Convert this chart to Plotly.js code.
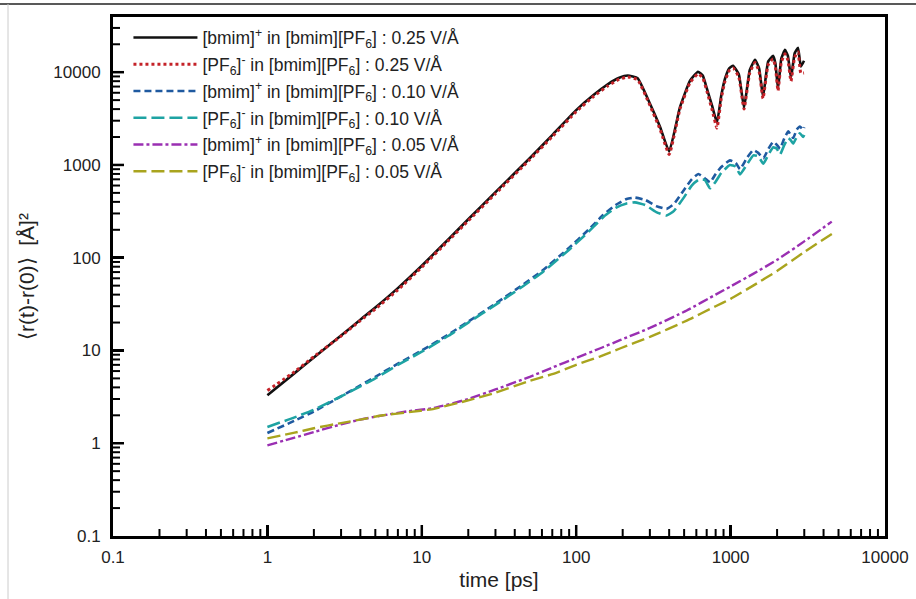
<!DOCTYPE html>
<html>
<head>
<meta charset="utf-8">
<script src="https://cdn.plot.ly/plotly-3.0.1.min.js"></script>
<style>html,body{margin:0;padding:0;background:#fff;}#chart{width:916px;height:599px;}</style>
</head>
<body>
<div id="chart"></div>
<script>
// ---- data ----
const t025 = [1, 1.5, 2, 3, 4, 5, 7, 10, 15, 20, 30, 50, 70, 100, 130, 160, 190, 216, 250, 300, 350, 400, 470, 546, 615, 660, 703, 760, 816, 870, 920, 980, 1037, 1130, 1222, 1330, 1439, 1530, 1622, 1750, 1883, 1950, 2028, 2130, 2250, 2350, 2461, 2600, 2733, 2850, 2990];
const bmim025 = [3.3, 5.7, 8.4, 14.5, 21.5, 29, 47, 82, 160, 260, 510, 1180, 2100, 3900, 5700, 7400, 8700, 9200, 8600, 4600, 2550, 1400, 4200, 8100, 10100, 9200, 6600, 4300, 2860, 5600, 8500, 11000, 11750, 9500, 4150, 10500, 13600, 11000, 5450, 13000, 15000, 12500, 6640, 14000, 17400, 15000, 8700, 16000, 18300, 11500, 13300];
const pf6025 = [3.7, 5.9, 8.6, 14.3, 21, 28, 45, 79, 155, 250, 490, 1140, 2020, 3750, 5500, 7100, 8400, 8900, 8300, 4400, 2400, 1300, 4000, 7700, 9600, 8700, 6200, 3900, 2500, 5200, 8000, 10400, 11100, 8900, 4000, 9800, 12700, 10200, 5200, 12000, 13900, 11500, 6300, 12800, 15800, 13500, 8000, 14500, 16500, 9800, 9800];

const t010 = [1, 1.5, 2, 3, 4, 5, 7, 10, 15, 20, 30, 45, 60, 90, 120, 150, 180, 212, 240, 280, 330, 385, 430, 500, 560, 618, 680, 736, 800, 870, 990, 1080, 1150, 1280, 1403, 1510, 1630, 1760, 1890, 1990, 2090, 2230, 2366, 2450, 2545, 2680, 2810, 2950, 3000];
const bmim010 = [1.29, 1.75, 2.2, 3.2, 4.2, 5.2, 7.2, 10, 15, 20.5, 32, 51, 72, 128, 200, 290, 370, 430, 445, 420, 360, 336, 380, 540, 700, 800, 720, 650, 800, 950, 1120, 1050, 900, 1200, 1450, 1350, 1180, 1500, 1780, 1650, 1500, 1950, 2300, 2100, 1950, 2400, 2600, 2400, 2550];
const pf6010 = [1.5, 1.9, 2.3, 3.2, 4.1, 5.0, 7.0, 9.7, 14.5, 20, 31, 49, 69, 122, 190, 275, 345, 385, 395, 370, 310, 285, 320, 450, 600, 690, 690, 560, 660, 820, 1000, 960, 790, 1020, 1270, 1240, 1030, 1300, 1550, 1500, 1300, 1650, 1950, 1850, 1700, 2000, 2200, 2000, 2100];

const t005b = [1, 1.5, 2, 3, 4, 5.6, 8, 12, 20, 30, 50, 71, 100, 142, 192, 300, 520, 800, 1000, 1400, 2000, 3000, 4520];
const bmim005 = [0.95, 1.15, 1.32, 1.6, 1.8, 2.0, 2.2, 2.4, 3.0, 3.8, 5.2, 6.6, 8.3, 10.5, 12.9, 17.5, 27, 40, 49, 67, 95, 150, 245];
const t005p = [1, 1.5, 2, 3, 4, 5.6, 8, 12, 20, 30, 50, 71, 100, 142, 192, 300, 520, 800, 1000, 1400, 2000, 3000, 4740];
const pf6005 = [1.13, 1.3, 1.45, 1.65, 1.8, 2.0, 2.15, 2.35, 2.9, 3.5, 4.7, 5.6, 7.0, 8.6, 10.5, 14, 21, 30, 36, 50, 72, 115, 190];

const seriesNames = [
  "[bmim]<sup>+</sup> in [bmim][PF<sub>6</sub>] : 0.25 V/Å",
  "[PF<sub>6</sub>]<sup>-</sup> in [bmim][PF<sub>6</sub>] : 0.25 V/Å",
  "[bmim]<sup>+</sup> in [bmim][PF<sub>6</sub>] : 0.10 V/Å",
  "[PF<sub>6</sub>]<sup>-</sup> in [bmim][PF<sub>6</sub>] : 0.10 V/Å",
  "[bmim]<sup>+</sup> in [bmim][PF<sub>6</sub>] : 0.05 V/Å",
  "[PF<sub>6</sub>]<sup>-</sup> in [bmim][PF<sub>6</sub>] : 0.05 V/Å"
];
const xTickVals = [0.1, 1, 10, 100, 1000, 10000];
const xTickText = ["0.1", "1", "10", "100", "1000", "10000"];
const yTickVals = [0.1, 1, 10, 100, 1000, 10000];
const yTickText = ["0.1", "1", "10", "100", "1000", "10000"];

const xRange = [-1, 4];
const yRange = [-1, 4.595];

// minor tick positions: 2..9 within every decade of the tick arrays, kept inside the axis range
function minorTicks(decades, range) {
  const out = [];
  decades.forEach(d => { for (let k = 2; k <= 9; k++) { const v = d * k; if (Math.log10(v) <= range[1]) out.push(v); } });
  return out;
}

// tick marks drawn inside the frame, positioned through the axes
function xTick(v, len, w) {
  return {type: "line", xref: "x", yref: "paper", ysizemode: "pixel", yanchor: 0,
          x0: v, x1: v, y0: 0, y1: len, line: {color: "#000", width: w}, layer: "above"};
}
function yTick(v, len, w) {
  return {type: "line", xref: "paper", yref: "y", xsizemode: "pixel", xanchor: 0,
          x0: 0, x1: len, y0: v, y1: v, line: {color: "#000", width: w}, layer: "above"};
}
const tickShapes = []
  .concat(xTickVals.filter(v => v > xTickVals[0] && v < xTickVals[xTickVals.length - 1]).map(v => xTick(v, 11, 2.5)))
  .concat(minorTicks(xTickVals, xRange).map(v => xTick(v, 7, 2)))
  .concat(yTickVals.filter(v => v > yTickVals[0]).map(v => yTick(v, 11, 2.5)))
  .concat(minorTicks(yTickVals, yRange).map(v => yTick(v, 7, 2)));

// ---- styles ----
const styles = [
  {color: "#111111", width: 2.6, dash: "solid"},
  {color: "#c42228", width: 3, dash: "dot"},
  {color: "#1f5aa0", width: 2.6, dash: "7px,4px"},
  {color: "#1ea3a3", width: 2.6, dash: "13px,5px"},
  {color: "#9a2fb2", width: 2.4, dash: "10px,3px,3px,3px"},
  {color: "#a9a41e", width: 2.4, dash: "13px,5px"}
];
const xs = [t025, t025, t010, t010, t005b, t005p];
const ys = [bmim025, pf6025, bmim010, pf6010, bmim005, pf6005];

const traces = ys.map((y, i) => ({
  type: "scatter", mode: "lines", x: xs[i], y: y, name: seriesNames[i],
  legendgroup: "g" + i,
  line: Object.assign({shape: "spline", smoothing: 0.4}, styles[i])
}));

const F = "Liberation Sans, Arial, Helvetica, sans-serif";
const layout = {
  width: 916, height: 599,
  margin: {l: 113, r: 31, t: 17, b: 63},
  paper_bgcolor: "#ffffff", plot_bgcolor: "#ffffff",
  font: {family: F, color: "#222", size: 17},
  showlegend: true,
  legend: {x: 0.02, y: 0.995, xanchor: "left", yanchor: "top", bgcolor: "rgba(0,0,0,0)",
           font: {family: F, size: 17.5, color: "#222"}, itemwidth: 64, traceorder: "grouped", tracegroupgap: 1},
  xaxis: {
    type: "log", range: xRange, showgrid: false, zeroline: false,
    showline: true, linewidth: 3, linecolor: "#000", mirror: true,
    ticks: "inside", ticklen: 11, tickwidth: 2.5, tickcolor: "#000",
    tickmode: "array", tickvals: xTickVals, ticktext: xTickText, ticklabelstandoff: 4,
    tickfont: {family: F, size: 17, color: "#222"},
    title: {text: "time [ps]", font: {family: F, size: 21, color: "#222"}, standoff: 6}
  },
  yaxis: {
    type: "log", range: yRange, showgrid: false, zeroline: false,
    showline: true, linewidth: 3, linecolor: "#000", mirror: true,
    ticks: "inside", ticklen: 11, tickwidth: 2.5, tickcolor: "#000",
    tickmode: "array", tickvals: yTickVals, ticktext: yTickText, ticklabelstandoff: 6,
    tickfont: {family: F, size: 17, color: "#222"},
    title: {text: "⟨r(t)-r(0)⟩  [Å]²", font: {family: F, size: 21, color: "#222"}, standoff: 13}
  },
  shapes: [
    {type: "line", xref: "paper", yref: "paper", x0: -0.16, x1: 1.05, y0: 1.025, y1: 1.025, line: {color: "#222", width: 1.5}},
    {type: "line", xref: "paper", yref: "paper", x0: -0.136, x1: -0.136, y0: 1.025, y1: -0.13, line: {color: "#cccccc", width: 1}}
  ].concat(tickShapes)
};

Plotly.newPlot("chart", traces, layout, {displayModeBar: false, staticPlot: true});
</script>
</body>
</html>
